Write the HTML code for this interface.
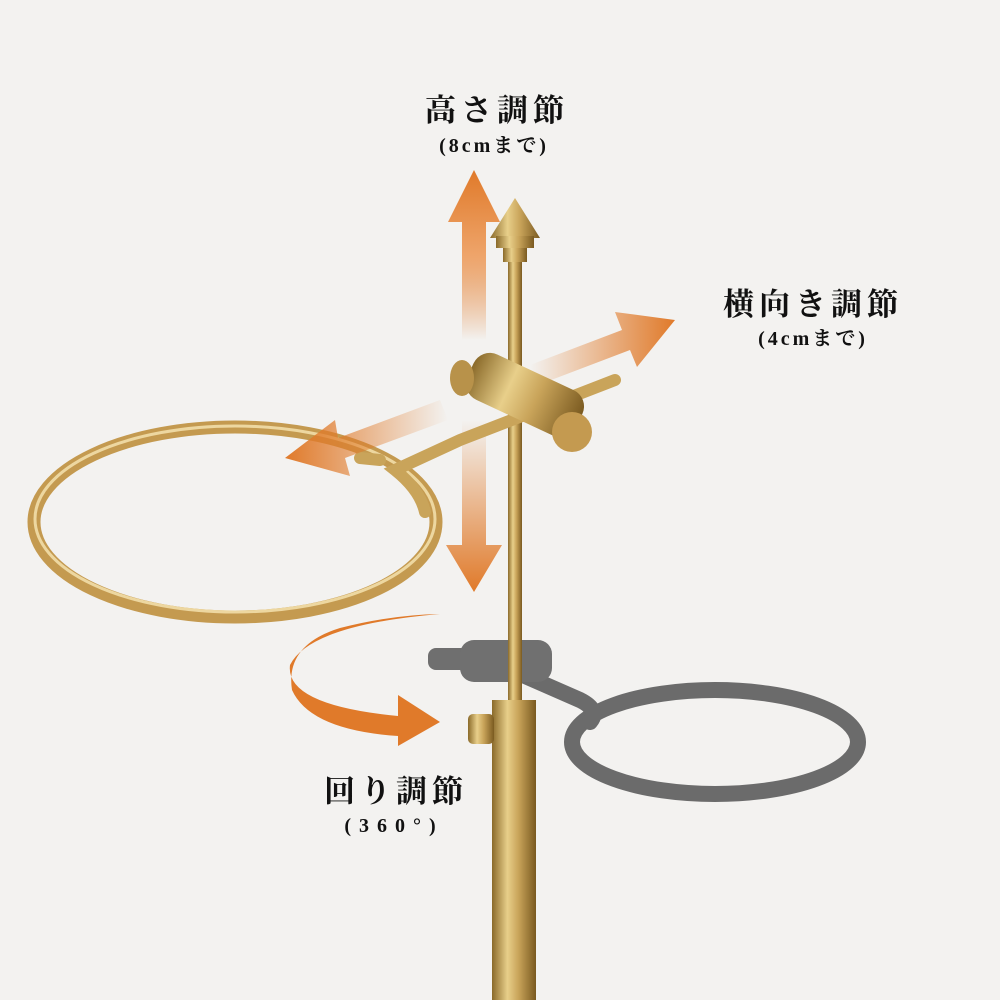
<!DOCTYPE html>
<html><head><meta charset="utf-8"><style>
html,body{margin:0;padding:0;background:#f3f2f0;}
svg{display:block}
text{font-family:"Liberation Serif","Noto Serif CJK JP","Noto Sans CJK JP",serif;fill:#111;font-weight:bold}
</style></head><body>
<svg width="1000" height="1000" viewBox="0 0 1000 1000" xmlns="http://www.w3.org/2000/svg">
<defs>
<linearGradient id="rod" x1="0" x2="1" y1="0" y2="0">
<stop offset="0" stop-color="#8a6a2a"/><stop offset="0.35" stop-color="#e8cf8a"/><stop offset="0.6" stop-color="#c9a45a"/><stop offset="1" stop-color="#7a5a20"/>
</linearGradient>
<linearGradient id="vup" x1="0" x2="0" y1="0" y2="1">
<stop offset="0" stop-color="#e07a2a"/><stop offset="0.5" stop-color="#eea46a"/><stop offset="1" stop-color="#e07a2a" stop-opacity="0"/>
</linearGradient>
<linearGradient id="vdn" x1="0" x2="0" y1="0" y2="1">
<stop offset="0" stop-color="#e07a2a" stop-opacity="0"/><stop offset="1" stop-color="#e07a2a"/>
</linearGradient>
<linearGradient id="hr" x1="0" x2="1" y1="0" y2="0">
<stop offset="0" stop-color="#e07a2a" stop-opacity="0"/><stop offset="1" stop-color="#e07a2a"/>
</linearGradient>
<linearGradient id="hl" x1="1" x2="0" y1="0" y2="0">
<stop offset="0" stop-color="#e07a2a" stop-opacity="0"/><stop offset="1" stop-color="#e07a2a"/>
</linearGradient>
</defs>
<rect width="1000" height="1000" fill="#f3f2f0"/>

<!-- gray ring -->
<ellipse cx="715" cy="742" rx="143" ry="52" fill="none" stroke="#6b6b6b" stroke-width="16"/>
<path d="M500 665 L580 700 Q600 710 590 722" fill="none" stroke="#6b6b6b" stroke-width="16" stroke-linecap="round"/>
<rect x="428" y="648" width="60" height="22" rx="8" fill="#6f6f6f"/>
<rect x="460" y="640" width="92" height="42" rx="14" fill="#707070"/>

<!-- vertical arrow -->
<polygon points="474,170 500,222 486,222 486,340 462,340 462,222 448,222" fill="url(#vup)"/>
<polygon points="462,420 486,420 486,545 502,545 474,592 446,545 462,545" fill="url(#vdn)"/>

<!-- rod -->
<rect x="508" y="255" width="14" height="450" fill="url(#rod)"/>
<rect x="492" y="700" width="44" height="300" fill="url(#rod)"/>
<polygon points="515,198 540,238 490,238" fill="url(#rod)"/>
<rect x="496" y="236" width="38" height="12" fill="url(#rod)"/>
<rect x="503" y="248" width="24" height="14" fill="url(#rod)"/>
<rect x="468" y="714" width="26" height="30" rx="5" fill="url(#rod)"/>

<!-- gold ring -->
<ellipse cx="235" cy="522" rx="201" ry="95" fill="none" stroke="#c49a50" stroke-width="13"/>
<ellipse cx="235" cy="519" rx="200" ry="93" fill="none" stroke="#edd7a0" stroke-width="3"/>
<path d="M380 460 L360 458 M425 512 Q420 490 395 470 L460 440 L615 380" fill="none" stroke="#c9a45a" stroke-width="12" stroke-linecap="round"/>

<!-- horizontal arrows -->
<polygon points="675,320 615,312 622,330 530,365 538,385 630,350 637,367" fill="url(#hr)"/>
<polygon points="285,458 335,420 338,438 440,400 448,420 345,458 350,476" fill="url(#hl)"/>

<!-- clamp -->
<rect x="465" y="370" width="120" height="50" rx="18" fill="url(#rod)" transform="rotate(25 525 395)"/>
<circle cx="572" cy="432" r="20" fill="#c49a50"/>
<ellipse cx="462" cy="378" rx="12" ry="18" fill="#b8924a"/>

<!-- curved arrow -->
<path d="M440 614 Q310 625 290 665 Q285 705 398 716 L398 695 L440 722 L398 746 L398 736 Q310 730 292 690 Q285 645 340 628 Q390 615 440 614 Z" fill="#e07a2a"/>

<!-- labels -->
<text x="497" y="121" font-size="31" text-anchor="middle" letter-spacing="5">高さ調節</text>
<text x="494" y="152" font-size="20" text-anchor="middle" letter-spacing="3">(8cmまで)</text>
<text x="813" y="315" font-size="31" text-anchor="middle" letter-spacing="5">横向き調節</text>
<text x="813" y="345" font-size="20" text-anchor="middle" letter-spacing="3">(4cmまで)</text>
<text x="396" y="802" font-size="31" text-anchor="middle" letter-spacing="5">回り調節</text>
<text x="394" y="832" font-size="20" text-anchor="middle" letter-spacing="8">(360°)</text>
</svg>
</body></html>
